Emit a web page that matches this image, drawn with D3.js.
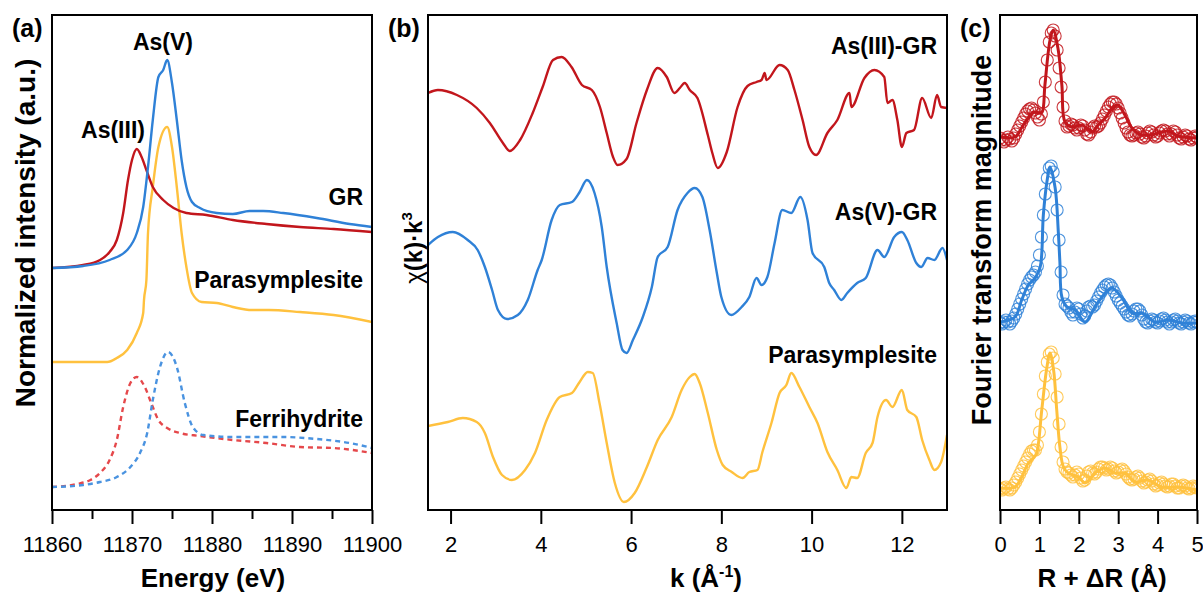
<!DOCTYPE html>
<html><head><meta charset="utf-8">
<script src="https://cdn.jsdelivr.net/npm/d3@7"></script>
<style>body{margin:0;background:#fff}svg{display:block}text{font-family:"Liberation Sans",Arial,sans-serif;fill:#000}</style>
</head><body><svg id="chart" width="1203" height="597"></svg>
<script>
// ---------- Panel (a): XANES ----------
const energyTicks = [11860, 11870, 11880, 11890, 11900];
const energyMinorTicks = [11865, 11875, 11885, 11895];
const eAsVGR = [11860,11863.9,11867.2,11869.4,11870.6,11871.4,11872,11872.6,11873.3,11873.9,11874.4,11875,11875.6,11876.2,11876.8,11877.5,11878.5,11880.6,11882.6,11884.7,11886.4,11888.9,11893.1,11897.2,11900];
const muAsVGR = [24.2,24.4,25.0,26.0,27.7,30.3,34.3,39.0,43.3,44.0,45.0,42.7,39.0,35.0,32.3,30.8,30.2,29.7,29.6,29.9,29.9,29.7,29.2,28.6,28.3];
const eAsIIIGR = [11860,11863.9,11866,11867.2,11868.1,11868.9,11869.5,11870,11870.6,11871.2,11871.8,11872.6,11873.9,11875.2,11876.8,11879.3,11882.6,11886.8,11891,11895.2,11900];
const muAsIIIGR = [24.2,24.5,25.0,25.8,27.0,29.7,33.0,35.0,36.1,35.3,34.0,32.3,31.0,30.2,29.7,29.5,29.0,28.6,28.3,28.1,27.8];
const ePara = [11860,11866.9,11868.1,11869.4,11870.6,11871.4,11871.5,11871.8,11872,11872.6,11873.3,11874.4,11875,11875.6,11876.2,11876.8,11877.5,11878.7,11880.6,11882.6,11885,11887.1,11891,11895.2,11900];
const muPara = [14.8,14.8,15.2,16.0,17.7,19.7,21.0,23.0,27.7,32.3,36.3,38.3,36.3,32.3,27.7,24.3,21.7,20.8,20.7,20.3,20.0,20.0,19.8,19.5,18.8];
const eAsIIIFh = [11860,11863.1,11864.8,11866,11867.2,11868.1,11868.9,11869.8,11870.6,11871.6,11872.4,11873.3,11874.4,11876,11878.5,11882.6,11886.8,11891,11895.2,11900];
const muAsIIIFh = [2.3,2.6,3.0,3.7,5.0,7.0,10.3,12.7,13.3,12.3,10.7,9.0,8.2,7.7,7.4,7.0,6.7,6.3,6.2,5.7];
const eAsVFh = [11860,11863.9,11866,11868.1,11869.8,11871,11871.9,11872.6,11873.5,11874.5,11875.6,11876.6,11877.6,11878.9,11882.6,11888.9,11893.1,11897.2,11900];
const muAsVFh = [2.3,2.5,2.8,3.3,4.3,5.7,7.7,11.0,14.3,15.8,14.3,10.7,8.3,7.5,7.3,7.3,7.1,6.7,6.2];

// ---------- Panel (b): EXAFS chi(k)k^3 ----------
const kTicks = [2, 4, 6, 8, 10, 12];
const kAsIII = [1.5,1.72,2.14,2.58,2.87,3.16,3.31,3.54,3.82,4.04,4.27,4.46,4.68,4.91,5.13,5.31,5.46,5.6,5.7,5.9,6.12,6.35,6.59,6.79,6.96,7.08,7.19,7.3,7.47,7.7,7.8,7.92,8.12,8.36,8.58,8.78,8.89,8.96,9.0,9.29,9.47,9.62,9.8,9.95,10.1,10.35,10.57,10.84,10.88,11.17,11.39,11.61,11.68,11.79,11.9,12.0,12.1,12.27,12.45,12.65,12.78,12.87,13.0];
const chiAsIII = [41.7,42.0,41.5,40.2,38.7,36.7,35.9,37.0,39.7,42.3,45.0,45.3,44.3,42.5,42.0,40.3,37.7,35.3,34.5,35.1,38.7,42.0,44.2,43.3,41.7,42.2,42.7,42.0,41.2,37.5,35.7,34.2,35.8,40.3,42.4,42.8,43.0,43.7,43.0,44.5,44.0,42.0,39.0,36.3,35.5,37.7,39.0,41.7,40.3,43.2,44.0,43.3,40.7,41.0,39.0,36.3,37.7,38.0,41.2,39.2,41.5,40.3,40.2];
const kAsV = [1.5,1.72,2.05,2.38,2.6,2.76,2.92,3.05,3.25,3.49,3.71,3.93,4.02,4.24,4.42,4.69,4.86,5.02,5.19,5.35,5.46,5.68,5.81,5.9,6.04,6.26,6.46,6.59,6.81,7.03,7.25,7.41,7.58,7.74,7.9,8.0,8.22,8.45,8.62,8.78,8.89,9.02,9.18,9.35,9.55,9.75,9.91,10.02,10.28,10.39,10.5,10.66,10.79,11.01,11.2,11.46,11.61,11.83,12.0,12.12,12.32,12.43,12.57,12.72,12.9,13.0];
const chiAsV = [26.5,27.3,27.8,27.0,26.0,24.3,22.0,20.0,19.1,19.5,21.0,24.0,25.0,29.0,30.5,30.8,31.8,33.0,31.7,28.3,24.3,18.7,16.0,15.7,17.0,19.3,22.3,25.3,26.3,30.0,31.7,32.2,31.3,28.0,23.7,21.3,19.5,20.3,21.3,23.2,22.5,23.3,26.7,30.0,29.7,31.3,29.0,25.7,24.3,22.7,22.0,21.0,21.7,22.7,23.2,26.0,25.3,27.3,27.8,27.0,24.7,24.3,25.2,25.0,26.2,25.0];
const kPara = [1.5,1.94,2.27,2.58,2.76,2.94,3.14,3.36,3.65,3.87,4.13,4.42,4.69,4.86,5.04,5.15,5.3,5.46,5.64,5.84,6.08,6.35,6.59,6.9,7.12,7.3,7.41,7.52,7.7,7.9,8.03,8.23,8.47,8.62,8.8,8.91,9.11,9.29,9.44,9.55,9.73,9.95,10.13,10.35,10.57,10.77,10.88,11.01,11.2,11.35,11.46,11.65,11.79,12.0,12.12,12.32,12.45,12.61,12.72,12.87,13.0];
const chiPara = [8.4,8.8,9.2,8.8,7.7,5.3,3.5,3.0,4.0,5.7,9.0,11.3,11.7,12.8,13.8,13.7,10.7,6.7,2.7,0.8,1.7,4.3,7.0,9.3,12.0,13.3,13.6,12.7,9.7,6.0,4.5,3.8,3.2,3.8,4.0,5.8,8.7,11.7,12.5,13.7,12.3,10.3,8.7,5.8,4.0,2.2,3.3,3.2,5.7,6.7,9.3,11.0,10.3,12.0,10.0,9.3,7.0,5.0,4.0,4.8,7.5];

// ---------- Panel (c): Fourier transform ----------
const rTicks = [0, 1, 2, 3, 4, 5];
const rStep = 0.05; // data sampled every 0.05 Å from 0 to 5
const ftDataAsIII = [37.2,37.0,36.8,37.0,37.3,37.1,36.9,37.2,37.6,38.0, 38.4,38.8,39.2,39.6,39.9,40.1,40.2,40.0,39.7,39.3, 39.0,39.6,40.8,42.8,45.0,46.8,47.7,48.0,47.4,46.0, 44.2,42.3,40.3,38.9,38.3,38.4,38.6,38.5,38.2,38.0, 38.2,38.5,38.4,38.0,37.6,37.5,37.8,38.2,38.4,38.3, 38.4,38.7,39.1,39.5,39.9,40.3,40.6,40.8,40.8,40.6, 40.2,39.7,39.2,38.7,38.2,37.8,37.5,37.4,37.5,37.7, 37.8,37.6,37.3,37.2,37.4,37.7,37.9,37.8,37.5,37.3, 37.4,37.7,37.9,38.0,37.9,37.6,37.4,37.6,37.9,37.8, 37.5,37.2,37.1,37.3,37.5,37.4,37.1,37.0,37.2,37.4, 37.3];
const ftDataAsV = [18.7,18.6,18.8,19.0,18.8,18.6,18.9,19.2,19.6,20.1, 20.6,21.1,21.6,22.1,22.6,23.0,23.3,23.5,23.8,24.4, 25.5,27.3,29.5,31.6,33.2,34.2,34.4,33.8,32.3,30.0, 27.0,23.8,21.5,20.6,20.4,20.2,19.8,19.5,19.8,20.2, 20.1,19.6,19.2,19.4,19.9,20.3,20.4,20.3,20.5,20.9, 21.3,21.7,22.0,22.3,22.5,22.6,22.5,22.2,21.8,21.4, 21.0,20.7,20.4,20.1,19.8,19.5,19.4,19.6,19.9,20.1, 20.1,19.9,19.5,19.1,18.8,18.7,18.9,19.1,19.0,18.8, 18.7,18.9,19.1,19.2,19.0,18.8,18.6,18.8,19.0,19.1, 18.9,18.7,18.6,18.8,19.0,18.9,18.7,18.6,18.8,18.9, 18.8];
const ftDataPara = [2.1,2.0,2.2,2.3,2.1,2.0,2.2,2.5,2.8,3.2, 3.6,4.0,4.4,4.8,5.2,5.6,5.9,6.0,6.0,6.5, 7.8,9.6,11.6,13.4,14.8,15.6,15.8,15.2,13.6,11.3, 8.6,6.3,4.8,4.1,3.8,3.7,3.5,3.3,3.5,3.8, 3.6,3.2,2.9,3.0,3.4,3.8,3.9,3.7,3.6,3.8, 4.1,4.3,4.3,4.2,4.0,4.1,4.3,4.2,3.9,3.7, 3.8,4.0,4.1,3.9,3.6,3.3,3.1,3.0,3.1,3.3, 3.4,3.2,2.9,2.7,2.8,3.0,3.1,2.9,2.6,2.4, 2.5,2.7,2.8,2.6,2.4,2.3,2.4,2.6,2.6,2.4, 2.2,2.2,2.4,2.5,2.4,2.2,2.1,2.2,2.4,2.3, 2.2];
const rFitAsIII = [0,0.38,0.56,0.71,0.85,1.0,1.07,1.14,1.27,1.35,1.47,1.57,1.65,1.83,2.08,2.34,2.49,2.67,2.87,2.99,3.17,3.35,3.6,3.93,4.26,4.52,5.0];
const ftFitAsIII = [37.3,37.3,38.3,39.2,39.8,39.7,39.8,42.5,47.0,48.0,46.2,42.5,38.8,38.3,38.5,37.8,38.5,39.2,40.3,40.5,39.5,38.2,37.5,37.6,37.9,37.4,37.2];
const rFitAsV = [0,0.38,0.55,0.72,0.89,1.02,1.1,1.19,1.27,1.4,1.48,1.52,1.57,1.7,1.91,2.16,2.41,2.67,2.84,3.1,3.35,3.6,3.94,4.27,4.62,5.0];
const ftFitAsV = [18.8,19.3,21.0,22.5,23.2,24.3,29.5,32.8,34.3,32.2,27.8,24.8,21.3,20.3,20.0,18.8,20.3,21.7,22.2,21.2,19.7,19.7,18.8,19.0,18.7,18.7];
const rFitPara = [0,0.38,0.55,0.72,0.85,0.93,1.06,1.18,1.27,1.36,1.44,1.52,1.61,1.73,1.99,2.16,2.41,2.67,2.92,3.17,3.43,3.76,4.1,4.52,5.0];
const ftFitPara = [2.2,2.3,3.3,4.7,5.2,5.7,10.0,14.0,15.7,14.0,10.0,6.3,4.3,3.7,3.3,2.7,3.7,4.2,3.7,3.7,2.8,3.0,2.3,2.3,2.0];

// ---------- drawing ----------
const RED = "#C2161C", BLUE = "#2F81D7", YEL = "#FFC13E", RED_D = "#E5484B", BLUE_D = "#4A93E0";
const svg = d3.select("#chart");
const yTop = 15, yBot = 510;
const y = d3.scaleLinear().domain([0, 49.5]).range([yBot, yTop]);
const zip = (xs, ys) => xs.map((x, i) => [x, ys[i]]);

function panel(id, x0, x1, domain) {
  const x = d3.scaleLinear().domain(domain).range([x0, x1]);
  svg.append("clipPath").attr("id", "clip" + id).append("rect")
    .attr("x", x0).attr("y", yTop).attr("width", x1 - x0).attr("height", yBot - yTop);
  const g = svg.append("g").attr("clip-path", `url(#clip${id})`);
  return {x, g, x0, x1};
}
function frame(p) {
  svg.append("rect").attr("x", p.x0).attr("y", yTop).attr("width", p.x1 - p.x0).attr("height", yBot - yTop)
    .attr("fill", "none").attr("stroke", "#000").attr("stroke-width", 2);
}
function axis(p, ticks, minor) {
  const ax = svg.append("g").attr("transform", `translate(0,${yBot})`)
    .call(d3.axisBottom(p.x).tickValues(ticks).tickSize(14).tickPadding(12).tickFormat(d3.format("d")));
  ax.select(".domain").remove();
  ax.selectAll("line").attr("stroke", "#000").attr("stroke-width", 2);
  ax.selectAll("text").attr("font-size", 22).attr("font-family", '"Liberation Sans", Arial, sans-serif').attr("fill", "#111");
  if (minor) {
    const mx = svg.append("g").attr("transform", `translate(0,${yBot})`)
      .call(d3.axisBottom(p.x).tickValues(minor).tickSize(9).tickFormat(""));
    mx.select(".domain").remove();
    mx.selectAll("line").attr("stroke", "#000").attr("stroke-width", 2);
  }
}
function drawLine(p, pts, color, dash, width, curve) {
  p.g.append("path").datum(pts)
    .attr("d", d3.line().x(d => p.x(d[0])).y(d => y(d[1])).curve(curve || d3.curveMonotoneX))
    .attr("fill", "none").attr("stroke", color).attr("stroke-width", width || 2.4)
    .attr("stroke-dasharray", dash || null).attr("stroke-linejoin", "round");
}
function label(txt, x, yy, anchor, size) {
  svg.append("text").attr("x", x).attr("y", yy).attr("text-anchor", anchor || "start")
    .attr("font-size", size || 23).attr("font-weight", "bold").text(txt);
}

// Panel a
const pa = panel("a", 52, 372, [11860, 11900]);
drawLine(pa, zip(eAsIIIFh, muAsIIIFh), RED_D, "5,4", 2.4);
drawLine(pa, zip(eAsVFh, muAsVFh), BLUE_D, "5,4", 2.4);
drawLine(pa, zip(ePara, muPara), YEL);
drawLine(pa, zip(eAsIIIGR, muAsIIIGR), RED);
drawLine(pa, zip(eAsVGR, muAsVGR), BLUE);
frame(pa);
axis(pa, energyTicks, energyMinorTicks);

// Panel b
const pb = panel("b", 428, 947, [1.5, 13]);
drawLine(pb, zip(kAsIII, chiAsIII), RED, null, 2.4);
drawLine(pb, zip(kAsV, chiAsV), BLUE, null, 2.4);
drawLine(pb, zip(kPara, chiPara), YEL, null, 2.4);
frame(pb);
axis(pb, kTicks);

// Panel c
const pc = panel("c", 1000, 1197, [0, 5]);
[[ftDataAsIII, RED], [ftDataAsV, BLUE], [ftDataPara, YEL]].forEach(([arr, col]) => {
  pc.g.append("g").selectAll("circle").data(arr).join("circle")
    .attr("cx", (d, i) => pc.x(i * rStep)).attr("cy", d => y(d)).attr("r", 6)
    .attr("fill", "none").attr("stroke", col).attr("stroke-width", 1.1).attr("stroke-opacity", 0.85);
});
drawLine(pc, zip(rFitAsIII, ftFitAsIII), RED, null, 3, d3.curveCatmullRom);
drawLine(pc, zip(rFitAsV, ftFitAsV), BLUE, null, 3, d3.curveCatmullRom);
drawLine(pc, zip(rFitPara, ftFitPara), YEL, null, 3, d3.curveCatmullRom);
frame(pc);
axis(pc, rTicks);

// Panel letters
label("(a)", 12, 37, "start", 25);
label("(b)", 388, 37, "start", 25);
label("(c)", 960, 37, "start", 25);

// Series labels
label("As(V)", 163, 50, "middle");
label("As(III)", 113, 138, "middle");
label("GR", 363, 205, "end");
label("Parasymplesite", 363, 288, "end");
label("Ferrihydrite", 363, 427, "end");
label("As(III)-GR", 937, 54, "end");
label("As(V)-GR", 937, 220, "end");
label("Parasymplesite", 937, 363, "end");

// Axis titles
label("Energy (eV)", 213, 587, "middle", 26);
const kt = svg.append("text").attr("x", 706).attr("y", 587).attr("text-anchor", "middle")
  .attr("font-size", 26).attr("font-weight", "bold");
kt.append("tspan").text("k (Å");
kt.append("tspan").attr("dy", -10).attr("font-size", 16).text("-1");
kt.append("tspan").attr("dy", 10).text(")");
label("R + ΔR (Å)", 1102, 587, "middle", 26);

svg.append("text").attr("transform", "translate(35,233) rotate(-90)").attr("text-anchor", "middle")
  .attr("font-size", 28).attr("font-weight", "bold").text("Normalized intensity (a.u.)");
svg.append("text").attr("transform", "translate(991,240) rotate(-90)").attr("text-anchor", "middle")
  .attr("font-size", 27).attr("font-weight", "bold").text("Fourier transform magnitude");
const ct = svg.append("text").attr("transform", "translate(422,248) rotate(-90)").attr("text-anchor", "middle")
  .attr("font-size", 24).attr("font-weight", "bold");
ct.append("tspan").attr("font-weight", "normal").text("χ");
ct.append("tspan").text("(k)·k");
ct.append("tspan").attr("dy", -10).attr("font-size", 15).text("3");
</script></body></html>
